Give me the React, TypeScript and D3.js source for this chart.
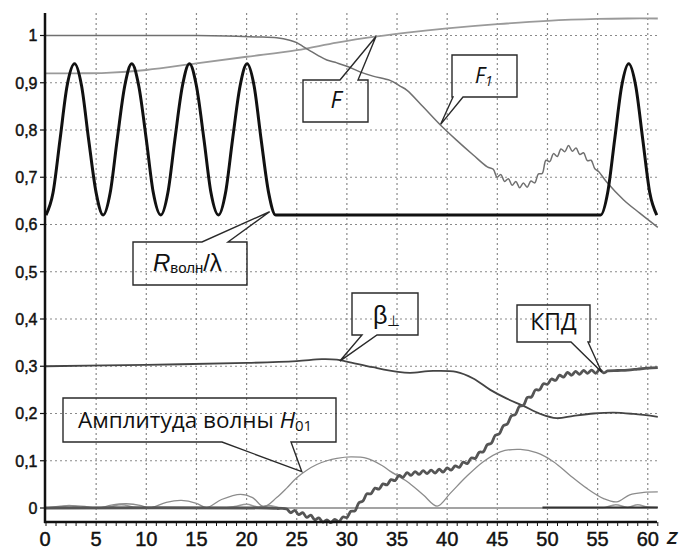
import React from 'react';
import * as d3 from 'd3';

// ---------- data ----------
const xTicks = [0, 5, 10, 15, 20, 25, 30, 35, 40, 45, 50, 55, 60];
const yTicks = [0, 0.1, 0.2, 0.3, 0.4, 0.5, 0.6, 0.7, 0.8, 0.9, 1];
const yTickLabels = ['0', '0,1', '0,2', '0,3', '0,4', '0,5', '0,6', '0,7', '0,8', '0,9', '1'];

// R_волн / λ
const rZ = [0, 0.7, 1.4, 2.1, 2.85, 3.55, 4.25, 5.0, 5.7, 6.4, 7.1, 7.85, 8.55, 9.25, 10.0, 10.7, 11.45,
  12.15, 12.85, 13.6, 14.3, 15.0, 15.75, 16.45, 17.2, 17.9, 18.6, 19.35, 20.05, 20.75, 21.45, 22.2, 22.9,
  55.3, 56.0, 56.7, 57.4, 58.1, 58.8, 59.5, 60.2, 60.9];
const rV = [0.62, 0.667, 0.78, 0.893, 0.94, 0.893, 0.78, 0.667, 0.62, 0.667, 0.78, 0.893, 0.94, 0.893, 0.78, 0.667, 0.62,
  0.667, 0.78, 0.893, 0.94, 0.893, 0.78, 0.667, 0.62, 0.667, 0.78, 0.893, 0.94, 0.893, 0.78, 0.667, 0.62,
  0.62, 0.667, 0.78, 0.893, 0.94, 0.893, 0.78, 0.667, 0.62];

// F
const fZ = [0, 3, 6, 10, 15, 20, 25, 29, 33, 36, 40, 45, 50, 55, 58, 61];
const fV = [0.92, 0.92, 0.921, 0.927, 0.941, 0.955, 0.969, 0.985, 0.998, 1.006, 1.015, 1.024, 1.031, 1.035, 1.036, 1.036];

// F1
const f1Z = [0, 15, 18, 21, 23, 24.3, 25, 25.6, 26.3, 27.1, 28, 29, 30, 31.3, 32.6, 34.3, 35.3, 36, 37.6, 39.3, 40.9, 42.6, 44.0,
  44.6, 44.975, 45.35, 45.725, 46.1, 46.475, 46.85, 47.225, 47.6, 47.975, 48.35, 48.725, 49.1, 49.475, 49.85, 50.225,
  50.6, 50.975, 51.35, 51.725, 52.1, 52.475, 52.85, 53.225, 53.6, 53.975, 54.35, 54.725, 55.1, 55.9, 57.6, 59.2, 61];
const f1V = [1.0, 1.0, 0.999, 0.997, 0.995, 0.99, 0.985, 0.977, 0.968, 0.958, 0.948, 0.942, 0.935, 0.923, 0.914, 0.905, 0.893, 0.884, 0.849, 0.811, 0.779, 0.747, 0.722,
  0.717, 0.700, 0.706, 0.691, 0.697, 0.683, 0.691, 0.678, 0.688, 0.679, 0.692, 0.688, 0.707, 0.708, 0.736, 0.733,
  0.750, 0.744, 0.760, 0.754, 0.767, 0.755, 0.762, 0.748, 0.752, 0.735, 0.736, 0.718, 0.712, 0.69, 0.652, 0.624, 0.594];

// β⊥
const bZ = [0, 10, 20, 25, 27.5, 29, 30, 32.6, 35.1, 36.3, 38.6, 40.9, 42.6, 44.3, 45.9, 47.6, 49.3, 50.9, 52.6, 54.6, 56.6, 58.6, 61];
const bV = [0.30, 0.303, 0.307, 0.311, 0.315, 0.314, 0.31, 0.298, 0.288, 0.286, 0.29, 0.288, 0.274, 0.25, 0.232, 0.216, 0.199, 0.19, 0.195, 0.2, 0.202, 0.199, 0.193];

// КПД
const kZ = [0, 22, 23, 24.0, 24.4, 24.8, 25.2, 25.6, 26.0, 26.4, 26.8, 27.2, 27.6, 28.0, 28.4, 28.8, 29.2, 29.6, 30.0,
  30.4, 30.8, 31.2, 31.6, 32.0, 32.4, 32.8, 33.2, 33.6, 34.0, 34.4, 34.8, 35.2, 35.6, 36.0, 36.4, 36.8, 37.2,
  37.6, 38.0, 38.4, 38.8, 39.2, 39.6, 40.0, 40.4, 40.8, 41.2, 41.6, 42.0, 42.4, 42.8, 43.2, 43.6, 44.0, 44.4,
  44.8, 45.2, 45.6, 46.0, 46.4, 46.8, 47.2, 47.6, 48.0, 48.4, 48.8, 49.2, 49.6, 50.0, 50.4, 50.8, 51.2, 51.6,
  52.0, 52.4, 52.8, 53.2, 53.6, 54.0, 54.4, 54.8, 55.2, 55.6, 56, 57, 58, 59, 60, 61];
const kV = [0, 0, -0.001, -0.002, -0.010, -0.005, -0.014, -0.010, -0.020, -0.015, -0.025, -0.021, -0.030, -0.025, -0.031, -0.024, -0.029, -0.019, -0.020,
  -0.007, -0.006, 0.011, 0.015, 0.030, 0.030, 0.042, 0.040, 0.051, 0.049, 0.060, 0.058, 0.069, 0.065, 0.075, 0.069, 0.077, 0.071,
  0.079, 0.073, 0.080, 0.074, 0.082, 0.076, 0.085, 0.080, 0.089, 0.086, 0.097, 0.094, 0.106, 0.105, 0.118, 0.119, 0.134, 0.137,
  0.154, 0.157, 0.174, 0.178, 0.195, 0.198, 0.215, 0.217, 0.234, 0.235, 0.250, 0.250, 0.263, 0.262, 0.273, 0.270, 0.281, 0.277,
  0.287, 0.281, 0.289, 0.283, 0.291, 0.285, 0.292, 0.285, 0.293, 0.286, 0.29, 0.291, 0.292, 0.294, 0.296, 0.297];

// Амплитуда волны H01
const aZ = [0, 1, 2.5, 4, 5.2, 6.5, 8, 9.5, 10.3, 12, 13.5, 15, 16, 17.5, 19.4, 20.6, 21.7, 23, 24, 25, 26, 27, 28, 29,
  30.4, 32, 33.5, 34.3, 36, 37.6, 39, 40.3, 41.9, 43.6, 45.3, 47.3, 48.9, 50.6, 52.2, 53.9, 55.6, 56.9, 58.2, 59.6, 61];
const aV = [0, 0.003, 0.005, 0.003, 0, 0.006, 0.009, 0.005, 0, 0.012, 0.016, 0.01, 0.001, 0.018, 0.029, 0.022, 0.003, 0.022, 0.042, 0.064, 0.08, 0.092, 0.1, 0.105,
  0.108, 0.105, 0.09, 0.078, 0.056, 0.028, 0.004, 0.031, 0.066, 0.098, 0.119, 0.124, 0.117, 0.098, 0.07, 0.042, 0.02, 0.013, 0.028, 0.033, 0.034];

// second (weak) wave amplitude near zero
const sZ = [0, 1.2, 2.3, 3.5, 4.5, 6, 7.5, 9, 10, 17.5, 18.8, 20, 21.2, 22.2, 23.2, 24, 55.5, 56.8, 58, 59, 60, 61];
const sV = [0, 0.001, 0.005, 0.001, 0, 0.001, 0.007, 0.001, 0, 0, 0.003, 0.008, 0.002, 0.005, 0.001, 0, 0, 0.007, 0.001, 0.007, 0.002, 0.001];

// dark trace on zero at the end
const dZ = [49.5, 61];
const dV = [0.001, 0.001];

// ---------- layout ----------
const W = 679;
const H = 548;
const X0 = 45;
const XR = 657;
const YT = 13;
const YB = 522;

const x = d3.scaleLinear().domain([0, 61]).range([46, 657.8]);
const y = d3.scaleLinear().domain([-0.03, 1.048]).range([522.175, 12.82]);

const zip = (zs: number[], vs: number[]) => zs.map((z, i) => [z, vs[i]] as [number, number]);

const mkLine = (curve: any) =>
  d3.line<[number, number]>().x((d) => x(d[0])).y((d) => y(d[1])).curve(curve);

const smooth = mkLine(d3.curveMonotoneX);
const cat = mkLine(d3.curveCatmullRom.alpha(0.5));
const lin = mkLine(d3.curveLinear);

type Callout = {
  box: [number, number, number, number];
  side: 'top' | 'bottom';
  base: [number, number];
  tip: [number, number];
};

const calloutPath = (c: Callout) => {
  const [x0, y0, x1, y1] = c.box;
  const tx = x(c.tip[0]);
  const ty = y(c.tip[1]);
  const [a, b] = c.base;
  if (c.side === 'top') {
    return `M${x0},${y0}L${a},${y0}L${tx},${ty}L${b},${y0}L${x1},${y0}L${x1},${y1}L${x0},${y1}Z`;
  }
  return `M${x0},${y0}L${x1},${y0}L${x1},${y1}L${b},${y1}L${tx},${ty}L${a},${y1}L${x0},${y1}Z`;
};

const cF: Callout = { box: [303, 80, 368, 122], side: 'top', base: [340, 358], tip: [32.9, 0.998] };
const cF1: Callout = { box: [452, 55, 517, 97], side: 'bottom', base: [453, 463], tip: [39.35, 0.812] };
const cR: Callout = { box: [133, 242, 247, 285], side: 'top', base: [202, 228], tip: [22.3, 0.627] };
const cB: Callout = { box: [352, 293, 418, 335], side: 'bottom', base: [362, 377], tip: [29.3, 0.311] };
const cK: Callout = { box: [517, 305, 590, 342], side: 'bottom', base: [571, 588], tip: [55.4, 0.288] };
const cA: Callout = { box: [63, 398, 336, 442], side: 'bottom', base: [222, 291], tip: [25.5, 0.077] };

const SANS = '"Liberation Sans", Arial, sans-serif';
const HUM = '"Open Sans", "Noto Sans", sans-serif';

export default function App() {
  const minor = d3.range(0, 62, 1);
  return (
    <svg width={W} height={H} style={{ position: 'absolute', left: 0, top: 0, background: '#fff' }}>
      <rect x={0} y={0} width={W} height={H} fill="#fff" />
      {/* grid */}
      <g stroke="#8a8a8a" strokeWidth={1.2} strokeDasharray="2,3">
        {xTicks.filter((t) => t > 0).map((t) => (
          <line key={'gx' + t} x1={x(t)} x2={x(t)} y1={YT} y2={YB} />
        ))}
        {yTicks.filter((t) => t > 0).map((t) => (
          <line key={'gy' + t} x1={X0} x2={XR} y1={y(t)} y2={y(t)} />
        ))}
      </g>
      {/* zero line */}
      <line x1={X0} x2={XR} y1={y(0)} y2={y(0)} stroke="#a8a8a8" strokeWidth={1.6} />

      {/* curves */}
      <path d={smooth(zip(sZ, sV)) || ''} fill="none" stroke="#9a9a9a" strokeWidth={1.6} />
      <path d={lin(zip(dZ, dV)) || ''} fill="none" stroke="#333" strokeWidth={2} />
      <path d={cat(zip(aZ, aV)) || ''} fill="none" stroke="#8c8c8c" strokeWidth={1.3} />
      <path d={cat(zip(fZ, fV)) || ''} fill="none" stroke="#9a9a9a" strokeWidth={1.8} />
      <path d={cat(zip(f1Z, f1V)) || ''} fill="none" stroke="#707070" strokeWidth={1.5} />
      <path d={cat(zip(bZ, bV)) || ''} fill="none" stroke="#444" strokeWidth={1.8} />
      <path d={cat(zip(kZ, kV)) || ''} fill="none" stroke="#555" strokeWidth={2.8} />
      <path d={smooth(zip(rZ, rV)) || ''} fill="none" stroke="#111" strokeWidth={3} />

      {/* axes */}
      <g stroke="#111">
        <line x1={X0} x2={X0} y1={YT} y2={YB + 1} strokeWidth={2.5} />
        <line x1={X0 - 1} x2={XR} y1={YB} y2={YB} strokeWidth={2.5} />
        {minor.map((t) => (
          <line key={'mt' + t} x1={x(t)} x2={x(t)} y1={YB} y2={YB + 4} strokeWidth={1} />
        ))}
        {yTicks.map((t) => (
          <line key={'yt' + t} x1={X0 - 5} x2={X0} y1={y(t)} y2={y(t)} strokeWidth={1.2} />
        ))}
      </g>

      {/* tick labels */}
      <g fontFamily={SANS} fontSize={16} fill="#111" stroke="#111" strokeWidth={0.45}>
        {yTicks.map((t, i) => (
          <text key={'yl' + t} x={37.5} y={y(t)} dy="0.36em" textAnchor="end">
            {yTickLabels[i]}
          </text>
        ))}
      </g>
      <g fontFamily={SANS} fontSize={20} fill="#111" stroke="#111" strokeWidth={0.45}>
        {xTicks.map((t) => (
          <text key={'xl' + t} x={t === 0 ? X0 : x(t)} y={545.5} textAnchor="middle">
            {String(t)}
          </text>
        ))}
      </g>
      <text x={667} y={543.5} fontFamily={SANS} fontSize={17} fontStyle="italic" fontWeight="bold" fill="#1a1a1a">
        Z
      </text>

      {/* callouts */}
      <g fill="none" stroke="#2a2a2a" strokeWidth={1.4}>
        {[cF, cF1, cR, cB, cK, cA].map((c, i) => (
          <path key={'co' + i} d={calloutPath(c)} strokeLinejoin="miter" />
        ))}
      </g>
      <g fill="#111">
        <text x={336} y={108} textAnchor="middle" fontFamily={HUM} fontSize={23} fontStyle="italic">F</text>
        <text x={475} y={83} fontFamily={HUM} fontSize={21} fontStyle="italic">
          F<tspan fontSize={14} dy={3}>1</tspan>
        </text>
        <text x={153} y={271} fontFamily={SANS} fontSize={24}>
          <tspan fontStyle="italic">R</tspan>
          <tspan fontSize={15} dy={2}>волн</tspan>
          <tspan dy={-2}>/λ</tspan>
        </text>
        <text x={373} y={324} fontFamily={SANS} fontSize={25}>
          β<tspan fontSize={15} dy={2}>⊥</tspan>
        </text>
        <text x={553.5} y={330} textAnchor="middle" fontFamily={HUM} fontSize={23}>КПД</text>
        <text x={78} y={428} fontFamily={HUM} fontSize={22.5}>
          Амплитуда волны <tspan fontStyle="italic">H</tspan>
          <tspan fontSize={15} dy={3}>01</tspan>
        </text>
      </g>
    </svg>
  );
}
